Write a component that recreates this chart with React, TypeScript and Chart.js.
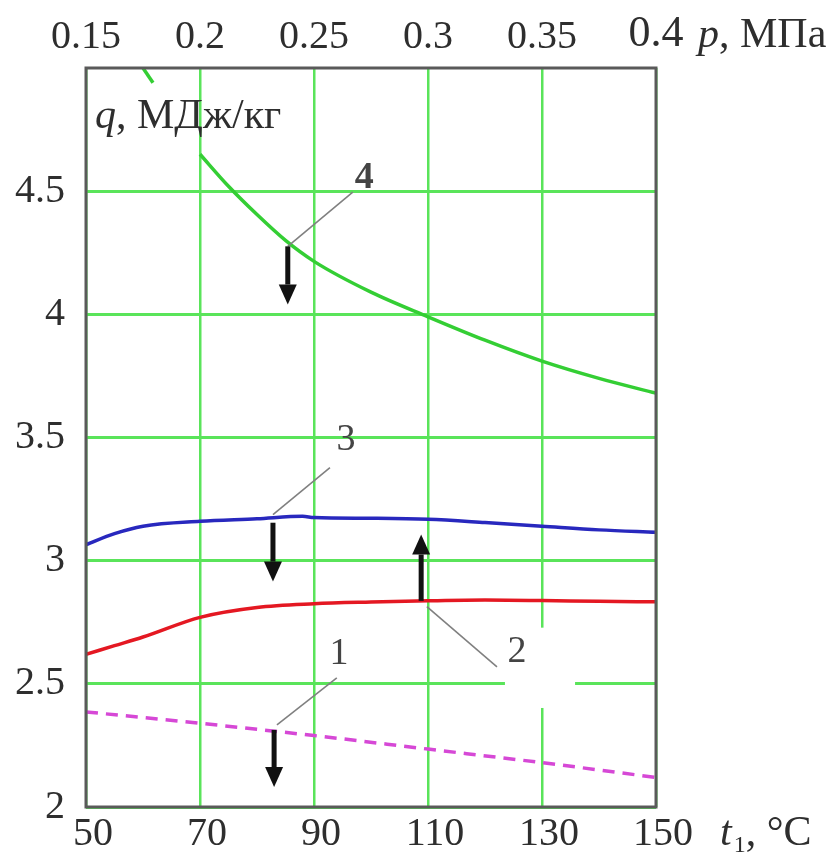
import React, { useEffect, useRef } from 'react';
import { Chart, registerables } from 'chart.js';

Chart.register(...registerables);

const FONT = '"Liberation Serif", "Times New Roman", serif';

// ---- data (t1 in °C, q in MJ/kg) ----
const curve1T = [50, 70, 90, 110, 130, 150];
const curve1Q = [2.386, 2.34, 2.29, 2.235, 2.18, 2.12];

const curve2T = [50, 55, 60, 70, 80, 90, 100, 110, 120, 130, 140, 150];
const curve2Q = [2.62, 2.655, 2.69, 2.77, 2.81, 2.825, 2.832, 2.837, 2.84, 2.838, 2.835, 2.833];

const curve3T = [50, 55, 60, 70, 80, 88, 90, 100, 110, 120, 130, 140, 150];
const curve3Q = [3.065, 3.11, 3.14, 3.16, 3.17, 3.18, 3.175, 3.172, 3.168, 3.155, 3.14, 3.125, 3.115];

const curve4T = [70, 75, 80, 85, 90, 100, 110, 120, 130, 140, 150];
const curve4Q = [4.65, 4.52, 4.405, 4.3, 4.215, 4.09, 3.99, 3.895, 3.81, 3.74, 3.68];

const fragT = [60, 61.75];
const fragQ = [5.0, 4.94];

// ---- ticks ----
const xTicks = [50, 70, 90, 110, 130, 150];
const yTicks = [2, 2.5, 3, 3.5, 4, 4.5];
const pTicks = [0.15, 0.2, 0.25, 0.3, 0.35, 0.4];

// ---- annotations ----
const labelText = ['4', '3', '2', '1'];
const labelT = [98.8, 95.6, 125.6, 94.4];
const labelQ = [4.553, 3.49, 2.63, 2.622];
const leaderT0 = [85.4, 82.8, 109.8, 83.5];
const leaderQ0 = [4.276, 3.187, 2.813, 2.333];
const leaderT1 = [96.8, 92.8, 122.1, 94.0];
const leaderQ1 = [4.496, 3.378, 2.569, 2.524];
const arrowT = [85.4, 82.8, 108.8, 83.0];
const arrowFrom = [4.276, 3.154, 2.837, 2.313];
const arrowTo = [4.04, 2.915, 3.106, 2.081];
const maskT = [123.5, 135.8];
const maskQ = [2.402, 2.728];

const pts = (t: number[], q: number[]) => t.map((v, i) => ({ x: v, y: q[i] }));

const GRID = 'rgb(90,228,90)';
const TICK = '#2e2e2e';

function drawArrow(ctx: CanvasRenderingContext2D, x: number, y0: number, y1: number) {
  const dir = Math.sign(y1 - y0);
  const headLen = 20;
  const headW = 9;
  const shaft = 2.5;
  const yb = y1 - dir * headLen;
  ctx.fillStyle = '#111';
  ctx.fillRect(x - shaft, Math.min(y0, yb), shaft * 2, Math.abs(yb - y0));
  ctx.beginPath();
  ctx.moveTo(x - headW, yb);
  ctx.lineTo(x + headW, yb);
  ctx.lineTo(x, y1);
  ctx.closePath();
  ctx.fill();
}

const decor = {
  id: 'decor',
  beforeDatasetsDraw(chart: any) {
    const { ctx, scales } = chart;
    const x = scales.x, y = scales.y;
    ctx.save();
    ctx.fillStyle = '#ffffff';
    const xa = x.getPixelForValue(maskT[0]);
    const xb = x.getPixelForValue(maskT[1]);
    const ya = y.getPixelForValue(maskQ[1]);
    const yb = y.getPixelForValue(maskQ[0]);
    ctx.fillRect(xa, ya, xb - xa, yb - ya);
    ctx.restore();
  },
  afterDatasetsDraw(chart: any) {
    const { ctx, scales, chartArea } = chart;
    const x = scales.x, y = scales.y;
    ctx.save();
    // frame
    ctx.strokeStyle = '#5a5a5a';
    ctx.lineWidth = 3;
    ctx.strokeRect(chartArea.left, chartArea.top, chartArea.right - chartArea.left, chartArea.bottom - chartArea.top);

    // leader lines
    ctx.strokeStyle = '#808080';
    ctx.lineWidth = 1.6;
    for (let i = 0; i < labelText.length; i++) {
      ctx.beginPath();
      ctx.moveTo(x.getPixelForValue(leaderT0[i]), y.getPixelForValue(leaderQ0[i]));
      ctx.lineTo(x.getPixelForValue(leaderT1[i]), y.getPixelForValue(leaderQ1[i]));
      ctx.stroke();
    }
    // arrows
    for (let i = 0; i < arrowT.length; i++) {
      drawArrow(ctx, x.getPixelForValue(arrowT[i]), y.getPixelForValue(arrowFrom[i]), y.getPixelForValue(arrowTo[i]));
    }
    // curve numbers
    ctx.fillStyle = '#444';
    ctx.textAlign = 'center';
    ctx.textBaseline = 'middle';
    for (let i = 0; i < labelText.length; i++) {
      ctx.font = (labelText[i] === '4' ? 'bold ' : '') + '38px ' + FONT;
      ctx.fillText(labelText[i], x.getPixelForValue(labelT[i]), y.getPixelForValue(labelQ[i]));
    }

    // axis titles
    ctx.fillStyle = '#2e2e2e';
    ctx.textAlign = 'left';
    ctx.textBaseline = 'alphabetic';
    // q, МДж/кг
    ctx.font = 'italic 42px ' + FONT;
    ctx.fillText('q', 95, 128);
    let w = ctx.measureText('q').width;
    ctx.font = '42px ' + FONT;
    ctx.fillText(', МДж/кг', 95 + w, 128);
    // p, МПа
    ctx.font = 'italic 42px ' + FONT;
    ctx.fillText('p', 698, 47);
    w = ctx.measureText('p').width;
    ctx.font = '42px ' + FONT;
    ctx.fillText(', МПа', 698 + w, 47);
    // t1, °C
    ctx.font = 'italic 42px ' + FONT;
    ctx.fillText('t', 720, 845);
    w = ctx.measureText('t').width;
    ctx.font = '24px ' + FONT;
    ctx.fillText('1', 720 + w + 2, 852);
    const w2 = ctx.measureText('1').width;
    ctx.font = '42px ' + FONT;
    ctx.fillText(', °C', 720 + w + 2 + w2, 845);
    ctx.restore();
  },
};

export default function App() {
  const ref = useRef<HTMLCanvasElement>(null);
  useEffect(() => {
    const canvas = ref.current!;
    const chart = new Chart(canvas, {
      type: 'line',
      data: {
        datasets: [
          {
            label: '1',
            data: pts(curve1T, curve1Q),
            borderColor: 'rgb(214,72,214)',
            borderWidth: 3.5,
            borderDash: [12, 8],
            pointRadius: 0,
            cubicInterpolationMode: 'monotone',
          },
          {
            label: '2',
            data: pts(curve2T, curve2Q),
            borderColor: 'rgb(228,24,34)',
            borderWidth: 3.5,
            pointRadius: 0,
            cubicInterpolationMode: 'monotone',
          },
          {
            label: '3',
            data: pts(curve3T, curve3Q),
            borderColor: 'rgb(40,40,190)',
            borderWidth: 3.5,
            pointRadius: 0,
            cubicInterpolationMode: 'monotone',
          },
          {
            label: '4',
            data: pts(curve4T, curve4Q),
            borderColor: 'rgb(52,206,52)',
            borderWidth: 3.5,
            pointRadius: 0,
            cubicInterpolationMode: 'monotone',
          },
          {
            label: 'frag',
            data: pts(fragT, fragQ),
            borderColor: 'rgb(52,206,52)',
            borderWidth: 3.5,
            pointRadius: 0,
          },
        ],
      },
      options: {
        responsive: false,
        devicePixelRatio: 1,
        animation: false,
        events: [],
        layout: { padding: 0 },
        plugins: { legend: { display: false }, tooltip: { enabled: false } },
        scales: {
          x: {
            type: 'linear',
            position: 'bottom',
            min: 50,
            max: 150,
            afterBuildTicks: (s: any) => { s.ticks = xTicks.map((v) => ({ value: v })); },
            afterFit: (s: any) => { s.height = 47; },
            border: { display: false },
            grid: { color: GRID, lineWidth: 2.5, drawTicks: false },
            ticks: {
              padding: 3,
              labelOffset: 7,
              color: TICK,
              font: { family: FONT, size: 40 },
              callback: (v: any) => String(v),
            },
          },
          x2: {
            type: 'linear',
            position: 'top',
            min: 0.15,
            max: 0.4,
            afterBuildTicks: (s: any) => { s.ticks = pTicks.map((v) => ({ value: v })); },
            afterFit: (s: any) => { s.height = 68; },
            border: { display: false },
            grid: { display: false, drawTicks: false },
            ticks: {
              padding: 7,
              color: TICK,
              font: (c: any) => ({ family: FONT, size: c.tick && c.tick.value > 0.39 ? 44 : 40 }),
              callback: (v: any) => String(Number(Number(v).toFixed(2))),
            },
          },
          y: {
            type: 'linear',
            position: 'left',
            min: 2,
            max: 5,
            afterBuildTicks: (s: any) => { s.ticks = yTicks.map((v) => ({ value: v })); },
            afterFit: (s: any) => { s.width = 86; },
            border: { display: false },
            grid: { color: GRID, lineWidth: 3, drawTicks: false },
            ticks: {
              padding: 21,
              color: TICK,
              font: { family: FONT, size: 40 },
              callback: (v: any) => String(v),
            },
          },
          yR: {
            type: 'linear',
            position: 'right',
            min: 2,
            max: 5,
            afterFit: (s: any) => { s.width = 184; },
            border: { display: false },
            grid: { display: false, drawTicks: false },
            ticks: { display: false },
          },
        },
      } as any,
      plugins: [decor],
    });
    return () => chart.destroy();
  }, []);
  return (
    <div style={{ position: 'fixed', left: 0, top: 0, width: 840, height: 854, background: '#fff' }}>
      <canvas ref={ref} width={840} height={854} style={{ display: 'block', width: 840, height: 854 }} />
    </div>
  );
}
